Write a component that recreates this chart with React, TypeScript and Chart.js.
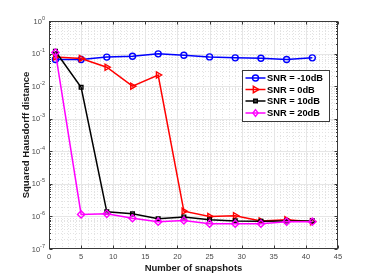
import React, { useEffect, useRef } from 'react';
import { Chart, registerables } from 'chart.js';

Chart.register(...registerables);

const snapshots = [1, 5, 9, 13, 17, 21, 25, 29, 33, 37, 41];
const snrMinus10 = [0.066, 0.066, 0.078, 0.083, 0.098, 0.089, 0.079, 0.074, 0.072, 0.066, 0.074];
const snr0 = [0.079, 0.071, 0.038, 0.010, 0.022, 1.45e-6, 1.0e-6, 1.05e-6, 7.3e-7, 7.9e-7, 6.9e-7];
const snr10 = [0.118, 0.0092, 1.38e-6, 1.2e-6, 8.5e-7, 9.6e-7, 7.9e-7, 7.3e-7, 7.1e-7, 7.2e-7, 7.3e-7];
const snr20 = [0.108, 1.15e-6, 1.2e-6, 8.8e-7, 6.9e-7, 7.5e-7, 6.0e-7, 6.0e-7, 6.0e-7, 6.9e-7, 6.9e-7];

const seriesLabels = ['SNR = -10dB', 'SNR = 0dB', 'SNR = 10dB', 'SNR = 20dB'];
const xTickValues = [0, 5, 10, 15, 20, 25, 30, 35, 40, 45];
const yExponents = [0, -1, -2, -3, -4, -5, -6, -7];
const xTitle = 'Number of snapshots';
const yTitle = 'Squared Hausdorff distance';

const FONT = '"Liberation Sans", Arial, Helvetica, sans-serif';
const COLORS = ['#0000ff', '#ff0000', '#000000', '#ff00ff'];
const STYLES: any[] = ['circle', 'triangle', 'rect', 'rectRot'];
const ROTATIONS = [0, 90, 0, 0];
const RADII = [3, 3.5, 2.6, 3.6];

function drawMarker(ctx: CanvasRenderingContext2D, i: number, x: number, y: number) {
  ctx.save();
  ctx.strokeStyle = COLORS[i];
  ctx.fillStyle = COLORS[i];
  ctx.lineWidth = 1.4;
  ctx.beginPath();
  if (i === 0) {
    ctx.arc(x, y, 3, 0, Math.PI * 2);
    ctx.stroke();
  } else if (i === 1) {
    ctx.moveTo(x + 3.5, y);
    ctx.lineTo(x - 2.2, y - 3.2);
    ctx.lineTo(x - 2.2, y + 3.2);
    ctx.closePath();
    ctx.stroke();
  } else if (i === 2) {
    ctx.rect(x - 1.8, y - 1.8, 3.6, 3.6);
    ctx.stroke();
  } else {
    ctx.moveTo(x, y - 3.4);
    ctx.lineTo(x + 2.6, y);
    ctx.lineTo(x, y + 3.4);
    ctx.lineTo(x - 2.6, y);
    ctx.closePath();
    ctx.stroke();
  }
  ctx.restore();
}

const matlabAxes = {
  id: 'matlabAxes',
  beforeDatasetsDraw(chart: any) {
    const { ctx, chartArea } = chart;
    const { left, right, top, bottom } = chartArea;
    const xs = chart.scales.x;
    const ys = chart.scales.y;
    ctx.save();
    // minor grid
    ctx.strokeStyle = '#e3e3e3';
    ctx.lineWidth = 1;
    ctx.setLineDash([1, 2]);
    for (let v = 1; v < 45; v++) {
      if (v % 5 === 0) continue;
      const px = Math.round(xs.getPixelForValue(v)) + 0.5;
      ctx.beginPath();
      ctx.moveTo(px, top);
      ctx.lineTo(px, bottom);
      ctx.stroke();
    }
    for (let e = -7; e < 0; e++) {
      for (let k = 2; k <= 9; k++) {
        const py = Math.round(ys.getPixelForValue(k * Math.pow(10, e))) + 0.5;
        ctx.beginPath();
        ctx.moveTo(left, py);
        ctx.lineTo(right, py);
        ctx.stroke();
      }
    }
    // major grid
    ctx.setLineDash([]);
    ctx.strokeStyle = '#e6e6e6';
    for (const v of xTickValues) {
      if (v === 0 || v === 45) continue;
      const px = Math.round(xs.getPixelForValue(v)) + 0.5;
      ctx.beginPath();
      ctx.moveTo(px, top);
      ctx.lineTo(px, bottom);
      ctx.stroke();
    }
    for (const e of yExponents) {
      if (e === 0 || e === -7) continue;
      const py = Math.round(ys.getPixelForValue(Math.pow(10, e))) + 0.5;
      ctx.beginPath();
      ctx.moveTo(left, py);
      ctx.lineTo(right, py);
      ctx.stroke();
    }
    ctx.restore();
  },
  afterDraw(chart: any) {
    const { ctx, chartArea } = chart;
    const { left, right, top, bottom } = chartArea;
    const xs = chart.scales.x;
    const ys = chart.scales.y;
    const L = Math.round(left) + 0.5;
    const R = Math.round(right) - 0.5;
    const T = Math.round(top) + 0.5;
    const B = Math.round(bottom) - 0.5;
    ctx.save();
    ctx.strokeStyle = '#3a3a3a';
    ctx.lineWidth = 1;
    ctx.strokeRect(L, T, R - L, B - T);
    // ticks
    ctx.beginPath();
    for (const v of xTickValues) {
      const px = Math.round(xs.getPixelForValue(v)) + 0.5;
      ctx.moveTo(px, B);
      ctx.lineTo(px, B - 3);
      ctx.moveTo(px, T);
      ctx.lineTo(px, T + 3);
    }
    for (const e of yExponents) {
      const py = Math.round(ys.getPixelForValue(Math.pow(10, e))) + 0.5;
      ctx.moveTo(L, py);
      ctx.lineTo(L + 3, py);
      ctx.moveTo(R, py);
      ctx.lineTo(R - 3, py);
    }
    for (let e = -7; e < 0; e++) {
      for (let k = 2; k <= 9; k++) {
        const py = Math.round(ys.getPixelForValue(k * Math.pow(10, e))) + 0.5;
        ctx.moveTo(L, py);
        ctx.lineTo(L + 1.5, py);
        ctx.moveTo(R, py);
        ctx.lineTo(R - 1.5, py);
      }
    }
    ctx.stroke();

    // tick labels
    ctx.fillStyle = '#4a4a4a';
    ctx.font = `7.5px ${FONT}`;
    ctx.textAlign = 'center';
    ctx.textBaseline = 'middle';
    for (const v of xTickValues) {
      const px = xs.getPixelForValue(v);
      ctx.fillText(String(v), px, bottom + 7.5);
    }
    for (const e of yExponents) {
      const py = ys.getPixelForValue(Math.pow(10, e));
      const expStr = e === 0 ? '0' : '-' + Math.abs(e);
      ctx.font = `5.5px ${FONT}`;
      const ew = ctx.measureText(expStr).width;
      ctx.font = `7.5px ${FONT}`;
      const bw = ctx.measureText('10').width;
      const xEnd = left - 4;
      ctx.textAlign = 'left';
      ctx.textBaseline = 'middle';
      ctx.fillText('10', xEnd - ew - bw, py + 0.5);
      ctx.font = `5.5px ${FONT}`;
      ctx.textBaseline = 'alphabetic';
      ctx.fillText(expStr, xEnd - ew, py - 1.5);
    }

    // titles
    ctx.fillStyle = '#1a1a1a';
    ctx.font = `bold 9.5px ${FONT}`;
    ctx.textAlign = 'center';
    ctx.textBaseline = 'middle';
    ctx.fillText(xTitle, (left + right) / 2, bottom + 19);
    ctx.save();
    ctx.translate(26, (top + bottom) / 2);
    ctx.rotate(-Math.PI / 2);
    ctx.fillText(yTitle, 0, 0);
    ctx.restore();

    // legend
    const bx1 = Math.round(right - 96) + 0.5;
    const bx2 = Math.round(right - 9) + 0.5;
    const by1 = Math.round(top + 49) + 0.5;
    const by2 = Math.round(top + 100) + 0.5;
    ctx.fillStyle = '#ffffff';
    ctx.fillRect(bx1, by1, bx2 - bx1, by2 - by1);
    ctx.strokeStyle = '#3a3a3a';
    ctx.lineWidth = 1;
    ctx.strokeRect(bx1, by1, bx2 - bx1, by2 - by1);
    const rowYs = [by1 + 7.5, by1 + 19, by1 + 30.5, by1 + 42.5];
    for (let i = 0; i < 4; i++) {
      const ry = rowYs[i];
      ctx.strokeStyle = COLORS[i];
      ctx.lineWidth = 1.5;
      ctx.beginPath();
      ctx.moveTo(bx1 + 3, ry);
      ctx.lineTo(bx1 + 23, ry);
      ctx.stroke();
      drawMarker(ctx, i, bx1 + 13, ry);
      ctx.fillStyle = '#000000';
      ctx.font = `bold 9.3px ${FONT}`;
      ctx.textAlign = 'left';
      ctx.textBaseline = 'middle';
      ctx.fillText(seriesLabels[i], bx1 + 24.5, ry + 0.5);
    }
    ctx.restore();
  },
};

export default function App() {
  const ref = useRef<HTMLCanvasElement | null>(null);
  useEffect(() => {
    if (!ref.current) return;
    const seriesValues = [snrMinus10, snr0, snr10, snr20];
    const chart = new Chart(ref.current, {
      type: 'line',
      data: {
        datasets: seriesValues.map((vals, i) => ({
          label: seriesLabels[i],
          data: snapshots.map((s, j) => ({ x: s, y: vals[j] })),
          borderColor: COLORS[i],
          backgroundColor: 'rgba(0,0,0,0)',
          borderWidth: 1.5,
          pointStyle: STYLES[i],
          rotation: ROTATIONS[i],
          pointRadius: RADII[i],
          pointBorderWidth: 1.4,
          pointBorderColor: COLORS[i],
          pointBackgroundColor: 'rgba(0,0,0,0)',
          tension: 0,
          order: 4 - i,
          clip: 6,
        })),
      },
      options: {
        animation: false,
        responsive: false,
        devicePixelRatio: 1,
        layout: { padding: { left: 49, right: 36, top: 21, bottom: 31 } },
        plugins: { legend: { display: false }, tooltip: { enabled: false } },
        scales: {
          x: { type: 'linear', min: 0, max: 45, display: false },
          y: { type: 'logarithmic', min: 1e-7, max: 1, display: false },
        },
      },
      plugins: [matlabAxes],
    });
    return () => chart.destroy();
  }, []);
  return (
    <div style={{ position: 'fixed', left: 0, top: 0, width: 374, height: 280, background: '#ffffff' }}>
      <canvas ref={ref} width={374} height={280} style={{ width: 374, height: 280 }} />
    </div>
  );
}
